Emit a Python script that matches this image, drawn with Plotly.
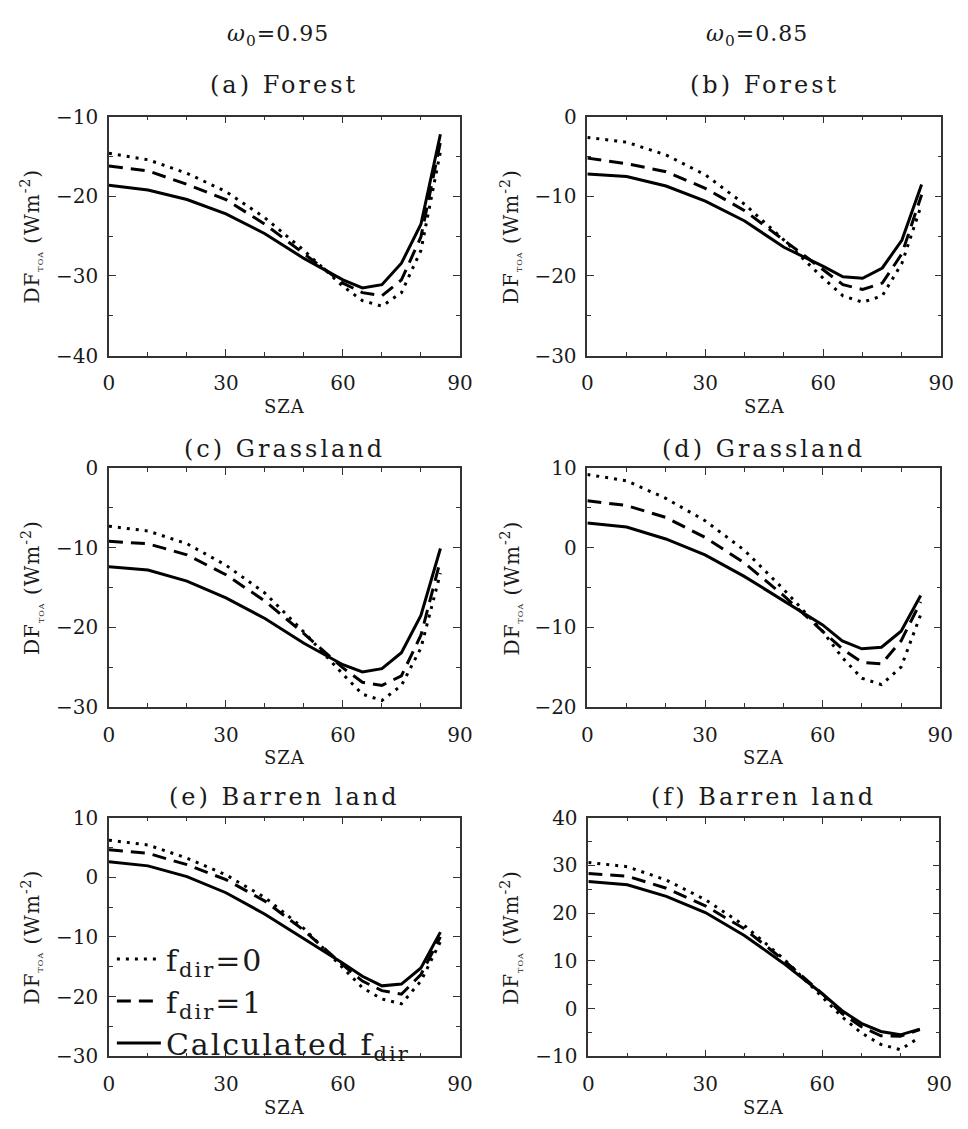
import plotly.graph_objects as go

W, H = 968, 1129

sza = [0, 10, 20, 30, 40, 50, 60, 65, 70, 75, 80, 85]

# (a) Forest, w0=0.95
a_f0 = [-14.6, -15.4, -17.1, -19.4, -22.7, -26.8, -31.3, -33.1, -33.8, -32.1, -26.8, -14.4]
a_f1 = [-16.2, -16.8, -18.5, -20.4, -23.5, -27.2, -30.9, -32.1, -32.5, -30.5, -25.1, -13.2]
a_fc = [-18.6, -19.2, -20.4, -22.2, -24.7, -27.8, -30.5, -31.5, -31.1, -28.4, -23.5, -12.2]

# (b) Forest, w0=0.85
b_f0 = [-2.6, -3.2, -4.8, -7.3, -11.0, -15.5, -20.3, -22.5, -23.3, -22.5, -18.4, -11.0]
b_f1 = [-5.2, -5.9, -6.9, -9.0, -11.8, -15.5, -19.2, -21.1, -21.7, -20.9, -17.2, -9.8]
b_fc = [-7.2, -7.5, -8.7, -10.6, -13.1, -16.4, -18.8, -20.1, -20.3, -19.0, -15.5, -8.5]

# (c) Grassland, w0=0.95
c_f0 = [-7.3, -7.9, -9.5, -12.2, -15.7, -20.6, -25.9, -28.4, -29.2, -27.3, -22.6, -13.2]
c_f1 = [-9.2, -9.5, -10.9, -13.4, -16.7, -20.8, -25.1, -26.9, -27.3, -26.1, -21.0, -11.6]
c_fc = [-12.4, -12.8, -14.2, -16.3, -18.9, -22.0, -24.7, -25.6, -25.2, -23.2, -18.5, -10.1]

# (d) Grassland, w0=0.85
d_f0 = [9.2, 8.4, 6.2, 3.4, -0.3, -5.2, -10.5, -13.8, -16.4, -17.2, -15.0, -8.4]
d_f1 = [5.9, 5.3, 3.8, 1.3, -1.9, -6.0, -10.5, -12.7, -14.4, -14.6, -11.7, -6.8]
d_fc = [3.1, 2.6, 1.1, -0.9, -3.6, -6.6, -9.7, -11.7, -12.7, -12.5, -10.5, -6.0]

# (e) Barren land, w0=0.95
e_f0 = [6.2, 5.4, 3.2, 0.4, -3.4, -8.6, -15.2, -18.5, -20.4, -21.2, -17.4, -10.8]
e_f1 = [4.6, 4.0, 2.1, -0.4, -4.0, -8.9, -14.7, -17.4, -19.0, -19.6, -16.3, -10.0]
e_fc = [2.6, 1.9, 0.1, -2.6, -6.2, -10.3, -14.4, -16.6, -18.2, -17.9, -15.2, -9.2]

# (f) Barren land, w0=0.85
f_f0 = [30.6, 29.7, 26.9, 22.8, 17.4, 10.5, 2.4, -1.7, -5.1, -7.5, -8.6, -6.0]
f_f1 = [28.3, 27.7, 25.2, 21.5, 16.7, 10.2, 3.1, -1.0, -3.8, -5.7, -5.8, -4.4]
f_fc = [26.6, 25.9, 23.5, 20.1, 15.3, 9.5, 3.1, -0.4, -3.1, -4.8, -5.5, -4.3]

panel_titles = ["(a) Forest", "(b) Forest", "(c) Grassland", "(d) Grassland",
                "(e) Barren land", "(f) Barren land"]
column_titles = ["<i>ω</i><sub>0</sub>=0.95", "<i>ω</i><sub>0</sub>=0.85"]
y_ranges = [[-40, -10], [-30, 0], [-30, 0], [-20, 10], [-30, 10], [-10, 40]]
series_names = ["f<sub>dir</sub>=0", "f<sub>dir</sub>=1", "Calculated f<sub>dir</sub>"]
x_ticks = [0, 30, 60, 90]

panels = [
    (a_f0, a_f1, a_fc), (b_f0, b_f1, b_fc), (c_f0, c_f1, c_fc),
    (d_f0, d_f1, d_fc), (e_f0, e_f1, e_fc), (f_f0, f_f1, f_fc),
]

# pixel boxes (left, right, top, bottom)
boxes = [
    (105, 463, 107, 351), (593, 954, 107, 351),
    (105, 463, 466, 710), (593, 953, 466, 710),
    (105, 463, 823, 1067), (594, 952, 823, 1067),
]

FONT = "DejaVu Serif"
INK = "#1a1a1a"
dash_styles = ["3px,6px", "14px,8px", "solid"]


def spaced(txt, px):
    return "<span style='letter-spacing:%dpx'>%s</span>" % (px, txt)


fig = go.Figure()
layout = dict(
    width=W, height=H, margin=dict(l=0, r=0, t=0, b=0),
    paper_bgcolor="white", plot_bgcolor="white",
    font=dict(family=FONT, color=INK, size=19),
    showlegend=True,
    legend=dict(
        x=108 / W, y=1 - 941 / H, xanchor="left", yanchor="top",
        bgcolor="rgba(0,0,0,0)", font=dict(size=30, family=FONT, color=INK),
        itemwidth=44, tracegroupgap=0, traceorder="normal",
    ),
)
annotations = []

for i, (series, box, rng, title) in enumerate(zip(panels, boxes, y_ranges, panel_titles)):
    l, r, t, b = box
    n = "" if i == 0 else str(i + 1)
    xa = "x" + n
    ya = "y" + n
    for k, (vals, dsh, name) in enumerate(zip(series, dash_styles, series_names)):
        fig.add_trace(go.Scatter(
            x=sza, y=vals, mode="lines", name=spaced(name, 2),
            line=dict(color="black", width=3, dash=dsh),
            xaxis=xa, yaxis=ya, showlegend=(i == 4),
        ))
    axis_common = dict(
        showline=True, linecolor="#333", linewidth=1.5, mirror="ticks",
        ticks="inside", ticklen=7, tickwidth=1.2, tickcolor="#333",
        showgrid=False, zeroline=False,
        tickfont=dict(size=20, family=FONT, color=INK),
    )
    layout["xaxis" + n] = dict(
        axis_common, domain=[l / W, r / W], range=[0, 90], anchor=ya,
        tickmode="array", tickvals=x_ticks, ticklabelstandoff=9,
        minor=dict(dtick=10, tick0=0, ticklen=4, ticks="inside", tickcolor="#333"),
    )
    layout["yaxis" + n] = dict(
        axis_common, domain=[1 - b / H, 1 - t / H], range=rng, anchor=xa,
        dtick=10, tick0=0, ticklabelstandoff=5,
        minor=dict(dtick=5, tick0=0, ticklen=4, ticks="inside", tickcolor="#333"),
    )
    cx = (l + r) / 2
    title_y = {107: 75, 466: 446, 823: 802}[t]
    annotations.append(dict(
        text=spaced(title, 3), x=cx / W, y=1 - title_y / H, xref="paper", yref="paper",
        showarrow=False, font=dict(size=24, family=FONT, color=INK),
        xanchor="center", yanchor="middle",
    ))
    annotations.append(dict(
        text=spaced("SZA", 1), x=cx / W, y=1 - (b + 52) / H, xref="paper", yref="paper",
        showarrow=False, font=dict(size=18, family=FONT, color=INK),
        xanchor="center", yanchor="middle",
    ))
    yx = 26 if l < 300 else 515
    annotations.append(dict(
        text=spaced("DF<sub><span style='font-size:8px'>TOA</span></sub> (Wm<sup>-2</sup>)", 1),
        x=yx / W, y=1 - ((t + b) / 2) / H, xref="paper", yref="paper",
        showarrow=False, textangle=-90, font=dict(size=20, family=FONT, color=INK),
        xanchor="center", yanchor="middle",
    ))

for j, ct in enumerate(column_titles):
    cx = 277 if j == 0 else 766
    annotations.append(dict(
        text=spaced(ct, 1), x=cx / W, y=1 - 24 / H, xref="paper", yref="paper",
        showarrow=False, font=dict(size=22, family=FONT, color=INK),
        xanchor="center", yanchor="middle",
    ))

layout["annotations"] = annotations
fig.update_layout(**layout)
fig.write_html(
    "out.html",
    config={"displayModeBar": False},
    post_script="document.body.style.margin='0';document.body.style.overflow='hidden';",
)
